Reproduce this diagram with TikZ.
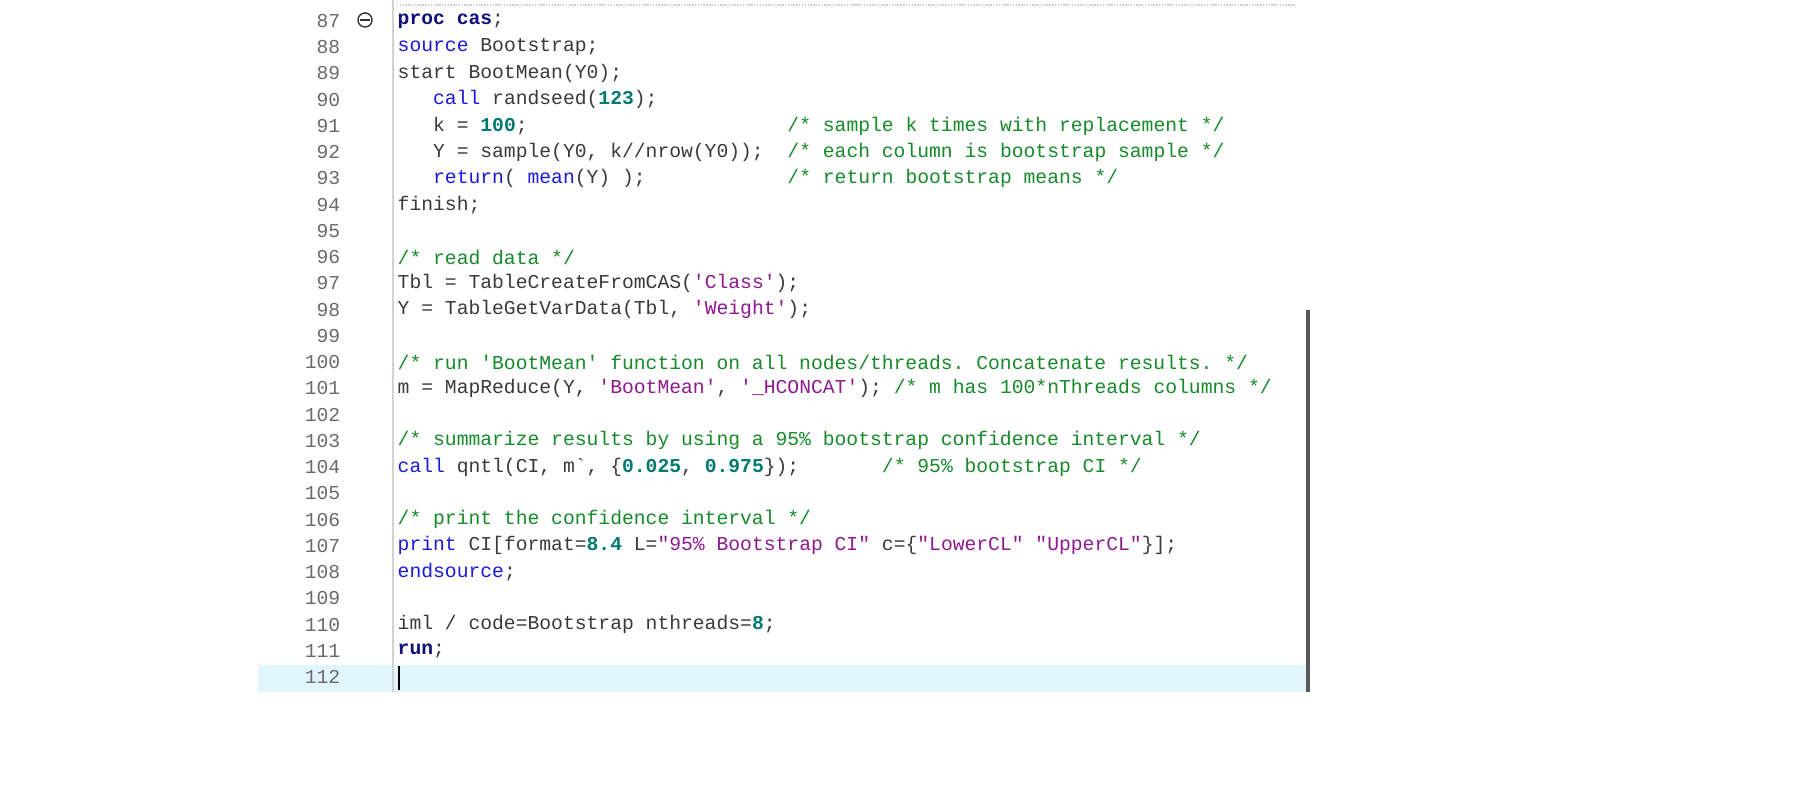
\documentclass[tikz,border=0pt]{standalone}
\usepackage{fontspec}
\setmonofont{Liberation Mono}
\usepackage{xcolor}
\usetikzlibrary{calc}
\definecolor{kwc}{HTML}{1A1ADC}
\definecolor{navyc}{HTML}{10107A}
\definecolor{numc}{HTML}{007A70}
\definecolor{strc}{HTML}{8E1A8E}
\definecolor{cmc}{HTML}{178A2A}
\definecolor{txtc}{HTML}{3A3A3A}
\definecolor{lnc}{HTML}{6A6A6A}
\newcommand\kw[1]{\textcolor{kwc}{#1}}
\newcommand\kb[1]{\textcolor{navyc}{\bfseries #1}}
\newcommand\nm[1]{\textcolor{numc}{\bfseries #1}}
\newcommand\sq[1]{\textcolor{strc}{#1}}
\newcommand\cm[1]{\textcolor{cmc}{#1}}
\begin{document}
\begin{tikzpicture}[x=0.1mm,y=-0.1mm,
  code/.style={anchor=west,inner sep=0pt,text=txtc,font=\ttfamily\fontsize{5.6pt}{6pt}\selectfont},
  lnum/.style={anchor=east,inner sep=0pt,text=lnc,font=\ttfamily\fontsize{5.6pt}{6pt}\selectfont}]
\useasboundingbox (0,0) rectangle (1800,800);
\fill[white] (0,0) rectangle (1800,800);
\fill[cyan!12] (258,665) rectangle (1310,692);
\draw[gray!40,dash pattern=on 0.4pt off 0.4pt,line width=0.4pt] (397,5) -- (1295,5);
\draw[gray!35,line width=0.4pt] (393,0) -- (393,692);
\draw[gray!70!black,line width=1pt] (1308,310) -- (1308,692);
\draw[black,line width=0.4pt] (399,666) -- (399,690);
\node[circle,draw=black!80,line width=0.4pt,minimum size=4pt,inner sep=0pt] (fold) at (365,20) {};
\draw[black!80,line width=0.4pt] ($(fold.center)+(-5,0)$) -- ($(fold.center)+(5,0)$);
\foreach \n [count=\i from 0] in {87,...,112}
  \node[lnum] (ln\n) at (341,{21+26.24*\i}) {\n};
\def\L#1#2{\node[code] (c#1) at (397,{21+26.24*(#1-87)}) {#2};}
\L{87}{\kb{proc cas};}
\L{88}{\kw{source} Bootstrap;}
\L{89}{start BootMean(Y0);}
\L{90}{\ \ \ \kw{call} randseed(\nm{123});}
\L{91}{\ \ \ k = \nm{100};\ \ \ \ \ \ \ \ \ \ \ \ \ \ \ \ \ \ \ \ \ \ \cm{/* sample k times with replacement */}}
\L{92}{\ \ \ Y = sample(Y0, k//nrow(Y0));\ \ \cm{/* each column is bootstrap sample */}}
\L{93}{\ \ \ \kw{return}( \kw{mean}(Y) );\ \ \ \ \ \ \ \ \ \ \ \ \cm{/* return bootstrap means */}}
\L{94}{finish;}
\L{96}{\cm{/* read data */}}
\L{97}{Tbl = TableCreateFromCAS(\sq{'Class'});}
\L{98}{Y = TableGetVarData(Tbl, \sq{'Weight'});}
\L{100}{\cm{/* run 'BootMean' function on all nodes/threads. Concatenate results. */}}
\L{101}{m = MapReduce(Y, \sq{'BootMean'}, \sq{'\_HCONCAT'}); \cm{/* m has 100*nThreads columns */}}
\L{103}{\cm{/* summarize results by using a 95\% bootstrap confidence interval */}}
\L{104}{\kw{call} qntl(CI, m\symbol{96}, \{\nm{0.025}, \nm{0.975}\});\ \ \ \ \ \ \ \cm{/* 95\% bootstrap CI */}}
\L{106}{\cm{/* print the confidence interval */}}
\L{107}{\kw{print} CI[format=\nm{8.4} L=\sq{"95\% Bootstrap CI"} c=\{\sq{"LowerCL"} \sq{"UpperCL"}\}];}
\L{108}{\kw{endsource};}
\L{110}{iml / code=Bootstrap nthreads=\nm{8};}
\L{111}{\kb{run};}
\end{tikzpicture}
\end{document}
